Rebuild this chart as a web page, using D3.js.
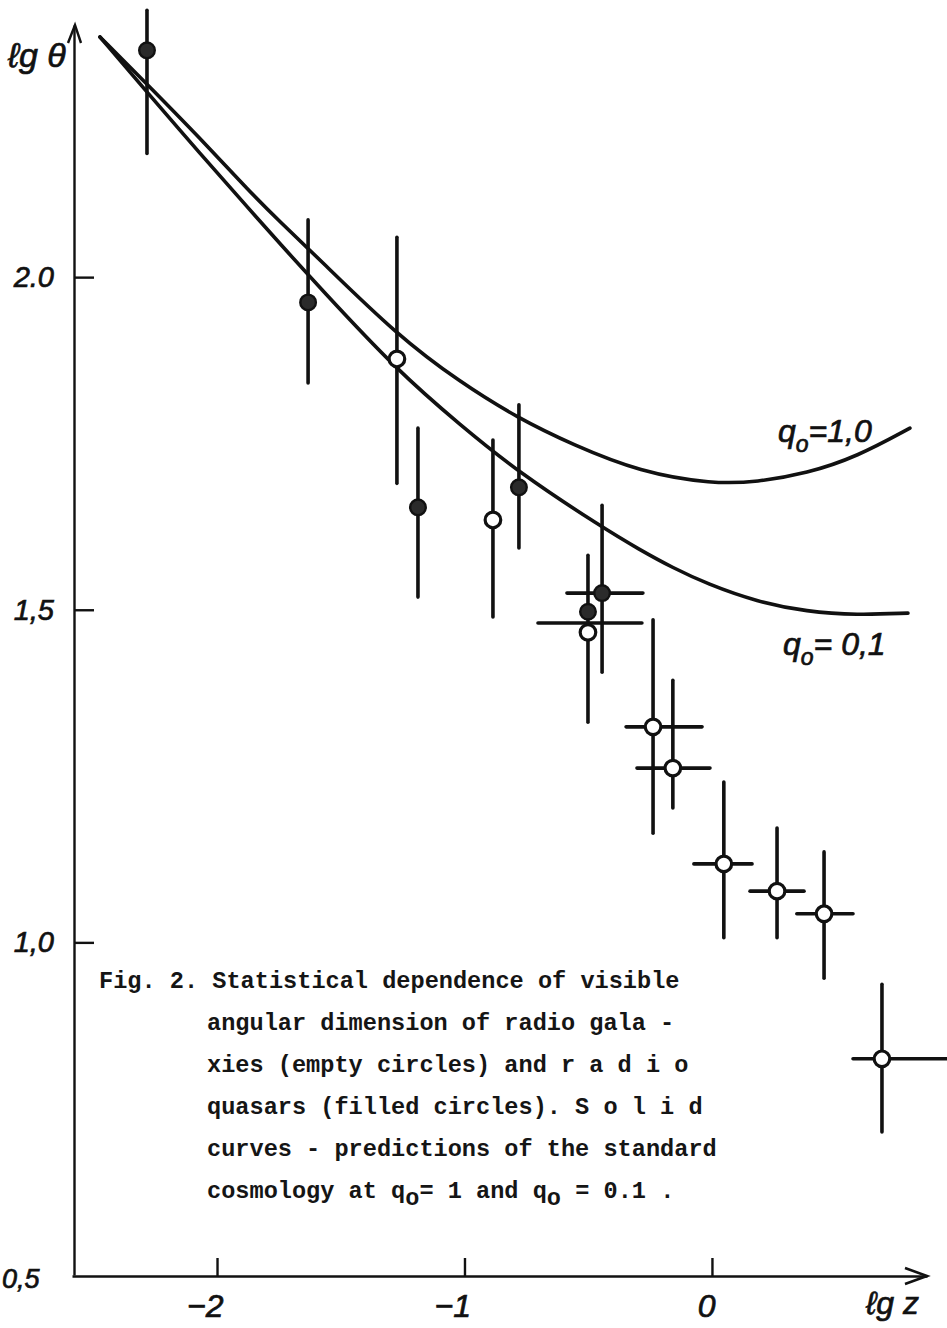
<!DOCTYPE html>
<html>
<head>
<meta charset="utf-8">
<script src="https://cdn.jsdelivr.net/npm/d3@7"></script>
<style>
  body { margin: 0; background: #fff; }
  .hand { font-family: "Liberation Sans", "DejaVu Sans", sans-serif; font-style: italic; fill: #111; stroke: #111; stroke-width: 0.7; }
  .caption { font-family: "Liberation Mono", "DejaVu Sans Mono", monospace; font-weight: bold; fill: #151515; }
  .axis path, .axis line { stroke: #111; stroke-width: 2.4; }
</style>
</head>
<body>
<svg id="chart" width="947" height="1328"></svg>
<script>
// ---- data ----
const xTicks = [-2, -1, 0];
const xTickLabels = ['\u22122', '\u22121', '0'];
const yTicks = [0.5, 1.0, 1.5, 2.0];
const yTickLabels = ['0,5', '1,0', '1,5', '2.0'];

// model curves, [lg z, lg theta]
const curveQ1 = [
  [-2.473, 2.361], [-2.283, 2.290], [-2.069, 2.209], [-1.867, 2.128], [-1.745, 2.083],
  [-1.584, 2.026], [-1.273, 1.913], [-1.018, 1.842], [-0.784, 1.788], [-0.562, 1.748],
  [-0.291, 1.707], [0.004, 1.689], [0.182, 1.692], [0.384, 1.705], [0.586, 1.730], [0.800, 1.773]
];
const curveQ01 = [
  [-2.473, 2.361], [-2.283, 2.278], [-2.069, 2.186], [-1.867, 2.101], [-1.745, 2.050],
  [-1.584, 1.984], [-1.273, 1.860], [-1.018, 1.778], [-0.776, 1.705], [-0.444, 1.624],
  [-0.291, 1.590], [-0.158, 1.563], [-0.020, 1.539], [0.182, 1.512], [0.384, 1.497],
  [0.586, 1.492], [0.792, 1.495]
];

// radio quasars (filled circles)
const quasars = [
  {x: -2.283, y: 2.341, yLo: 2.186, yHi: 2.401},
  {x: -1.632, y: 1.962, yLo: 1.841, yHi: 2.086},
  {x: -1.188, y: 1.654, yLo: 1.519, yHi: 1.773},
  {x: -0.780, y: 1.684, yLo: 1.593, yHi: 1.808},
  {x: -0.444, y: 1.525, yLo: 1.406, yHi: 1.657, xLo: -0.586, xHi: -0.279},
  {x: -0.501, y: 1.497}
];

// radio galaxies (empty circles)
const galaxies = [
  {x: -1.273, y: 1.877, yLo: 1.690, yHi: 2.060},
  {x: -0.885, y: 1.635, yLo: 1.489, yHi: 1.755},
  {x: -0.501, y: 1.466, yLo: 1.331, yHi: 1.582, xLo: -0.703, xHi: -0.283, xBarY: 1.480},
  {x: -0.238, y: 1.324, yLo: 1.164, yHi: 1.485, xLo: -0.347, xHi: -0.040},
  {x: -0.158, y: 1.262, yLo: 1.202, yHi: 1.394, xLo: -0.303, xHi: -0.008},
  {x: 0.048, y: 1.118, yLo: 1.007, yHi: 1.241, xLo: -0.073, xHi: 0.162},
  {x: 0.263, y: 1.077, yLo: 1.007, yHi: 1.172, xLo: 0.154, xHi: 0.372},
  {x: 0.453, y: 1.043, yLo: 0.946, yHi: 1.136, xLo: 0.343, xHi: 0.570},
  {x: 0.687, y: 0.825, yLo: 0.715, yHi: 0.937, xLo: 0.570, xHi: 0.950}
];

const captionLines = [
  'Fig. 2. Statistical dependence of visible',
  'angular dimension of radio gala -',
  'xies (empty circles) and r a d i o',
  'quasars (filled circles). S o l i d',
  'curves - predictions of the standard'
];

// ---- drawing ----
const svg = d3.select('#chart');

const x = d3.scaleLinear().domain([-2.586, 0.869]).range([72, 927]);
const y = d3.scaleLinear().domain([0.5, 2.379]).range([1275, 25]);

const x0 = x.range()[0], y0 = y.range()[0];

// y axis, ticks point inward (right)
const yAxis = svg.append('g').attr('class', 'axis')
  .attr('transform', `translate(${x0 + 2},0)`)
  .call(d3.axisLeft(y).tickValues(yTicks).tickSize(-20).tickSizeOuter(0).tickPadding(20)
    .tickFormat((d, i) => yTickLabels[i]));
yAxis.selectAll('text').attr('class', 'hand').attr('font-size', 29);
yAxis.selectAll('.tick').filter(d => d === 0.5).select('line').remove();
// "0,5" sits at the corner, left of the axis
yAxis.selectAll('.tick').filter(d => d === 0.5).select('text')
  .attr('text-anchor', 'start').attr('x', 2 - (x0 + 2)).attr('dy', '0.45em').attr('font-size', 27);

// x axis, ticks point up
const xAxis = svg.append('g').attr('class', 'axis')
  .attr('transform', `translate(0,${y0 + 1})`)
  .call(d3.axisBottom(x).tickValues(xTicks).tickSize(-18).tickSizeOuter(0).tickPadding(18)
    .tickFormat((d, i) => xTickLabels[i]));
xAxis.selectAll('text').attr('class', 'hand').attr('font-size', 32)
  .attr('text-anchor', 'end').attr('x', d => d === 0 ? 3 : 6);

// arrow heads
const ax = x0 + 2, ayTop = y.range()[1];
svg.append('path')
  .attr('d', `M${ax - 6},${ayTop + 18} L${ax + 1},${ayTop} L${ax + 7},${ayTop + 18}`)
  .attr('fill', 'none').attr('stroke', '#111').attr('stroke-width', 2.4);
const axR = x.range()[1];
svg.append('path')
  .attr('d', `M${axR - 22},${y0 - 7} L${axR},${y0 + 1} L${axR - 22},${y0 + 9}`)
  .attr('fill', 'none').attr('stroke', '#111').attr('stroke-width', 2.6);

// axis titles
svg.append('text').attr('class', 'hand').attr('x', 8).attr('y', 67).attr('font-size', 34)
  .text('\u2113g \u03b8');
svg.append('text').attr('class', 'hand').attr('x', 866).attr('y', 1314).attr('font-size', 32)
  .text('\u2113g z');

// curves
const line = d3.line().x(d => x(d[0])).y(d => y(d[1])).curve(d3.curveBasis);
[curveQ1, curveQ01].forEach(c => {
  svg.append('path').attr('d', line(c))
    .attr('fill', 'none').attr('stroke', '#111').attr('stroke-width', 3.6)
    .attr('stroke-linecap', 'round');
});

// curve labels
function qLabel(px, py, rest) {
  const t = svg.append('text').attr('class', 'hand').attr('x', px).attr('y', py).attr('font-size', 32);
  t.append('tspan').text('q');
  t.append('tspan').attr('dy', 10).attr('font-size', 23).text('o');
  t.append('tspan').attr('dy', -10).text(rest);
}
qLabel(778, 442, '=1,0');
qLabel(783, 655, '= 0,1');

// error bars
const bars = svg.append('g').attr('stroke', '#111').attr('stroke-width', 3.6).attr('stroke-linecap', 'round');
const allPts = quasars.concat(galaxies);
bars.selectAll('line.v').data(allPts.filter(d => d.yLo != null)).join('line')
  .attr('class', 'v')
  .attr('x1', d => x(d.x)).attr('x2', d => x(d.x))
  .attr('y1', d => y(d.yLo)).attr('y2', d => y(d.yHi));
bars.selectAll('line.h').data(allPts.filter(d => d.xLo != null)).join('line')
  .attr('class', 'h')
  .attr('x1', d => x(d.xLo)).attr('x2', d => x(d.xHi))
  .attr('y1', d => y(d.xBarY ?? d.y)).attr('y2', d => y(d.xBarY ?? d.y));

// markers
svg.append('g').selectAll('circle').data(galaxies).join('circle')
  .attr('cx', d => x(d.x)).attr('cy', d => y(d.y)).attr('r', 7.8)
  .attr('fill', '#fff').attr('stroke', '#111').attr('stroke-width', 3.2);
svg.append('g').selectAll('circle').data(quasars).join('circle')
  .attr('cx', d => x(d.x)).attr('cy', d => y(d.y)).attr('r', 7.8)
  .attr('fill', '#2b2b2b').attr('stroke', '#111').attr('stroke-width', 2.4);

// caption
const cap = svg.append('g').attr('class', 'caption').attr('font-size', 23.6);
captionLines.forEach((s, i) => {
  cap.append('text').attr('x', i === 0 ? 99 : 207).attr('y', 988 + i * 42)
    .attr('xml:space', 'preserve').text(s);
});
const last = cap.append('text').attr('x', 207).attr('y', 988 + 5 * 42).attr('xml:space', 'preserve');
last.append('tspan').text('cosmology at q');
last.append('tspan').attr('dy', 7).text('o');
last.append('tspan').attr('dy', -7).text('= 1 and q');
last.append('tspan').attr('dy', 7).text('o');
last.append('tspan').attr('dy', -7).text(' = 0.1 .');
</script>
</body>
</html>
